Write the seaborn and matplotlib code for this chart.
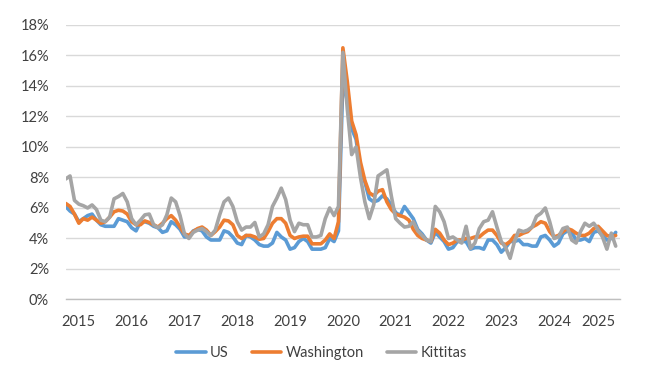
import numpy as np
import pandas as pd
import matplotlib.pyplot as plt
import matplotlib.transforms as mtransforms
from matplotlib.ticker import MultipleLocator, FuncFormatter
import seaborn as sns

# Monthly unemployment rate (%), Jan 2015 - Jun 2025
us = [6.1, 5.8, 5.6, 5.1, 5.3, 5.5, 5.6, 5.2, 4.9, 4.8, 4.8, 4.8,
      5.3, 5.2, 5.1, 4.7, 4.5, 5.1, 5.1, 5.0, 4.8, 4.7, 4.4, 4.5,
      5.1, 4.9, 4.6, 4.1, 4.1, 4.5, 4.6, 4.5, 4.1, 3.9, 3.9, 3.9,
      4.5, 4.4, 4.1, 3.7, 3.6, 4.2, 4.1, 3.9, 3.6, 3.5, 3.5, 3.7,
      4.4, 4.1, 3.9, 3.3, 3.4, 3.8, 4.0, 3.8, 3.3, 3.3, 3.3, 3.4,
      4.0, 3.8, 4.5, 14.4, 13.0, 11.2, 10.5, 8.5, 7.7, 6.6, 6.4, 6.5,
      6.8, 6.6, 6.2, 5.7, 5.5, 6.1, 5.7, 5.3, 4.6, 4.3, 3.9, 3.7,
      4.4, 4.1, 3.8, 3.3, 3.4, 3.8, 3.8, 3.8, 3.3, 3.4, 3.4, 3.3,
      3.9, 3.9, 3.6, 3.1, 3.4, 3.8, 3.8, 3.9, 3.6, 3.6, 3.5, 3.5,
      4.1, 4.2, 3.9, 3.5, 3.7, 4.3, 4.5, 4.4, 3.9, 3.9, 4.0, 3.8,
      4.4, 4.5, 4.2, 3.9, 4.0, 4.4]

washington = [6.3, 6.1, 5.6, 5.0, 5.3, 5.2, 5.4, 5.2, 5.0, 5.1, 5.4, 5.75,
              5.85, 5.8, 5.6, 5.1, 4.9, 4.9, 5.15, 5.05, 4.9, 4.75, 5.0, 5.3,
              5.5, 5.2, 4.75, 4.3, 4.2, 4.45, 4.65, 4.75, 4.55, 4.2, 4.45, 4.75,
              5.2, 5.15, 4.9, 4.2, 4.0, 4.2, 4.2, 4.1, 3.95, 4.0, 4.45, 5.0,
              5.3, 5.3, 5.0, 4.2, 4.0, 4.1, 4.15, 4.15, 3.65, 3.65, 3.65, 3.9,
              4.3, 4.0, 5.1, 16.5, 14.3, 11.7, 10.8, 9.0, 7.8, 7.0, 6.8, 7.1,
              7.2, 6.4, 5.9, 5.6, 5.5, 5.4, 5.2, 4.6, 4.2, 4.0, 3.9, 3.8,
              4.6, 4.35, 3.9, 3.6, 3.7, 3.9, 3.9, 4.0, 4.0, 4.1, 4.1, 4.35,
              4.55, 4.55, 4.2, 3.7, 3.6, 3.8, 4.2, 4.2, 4.35, 4.45, 4.75, 4.9,
              5.1, 5.0, 4.45, 4.1, 4.2, 4.45, 4.65, 4.55, 4.35, 4.2, 4.2, 4.35,
              4.65, 4.8, 4.5, 4.2, 4.1, 4.2]

kittitas = [7.9, 8.1, 6.5, 6.25, 6.15, 6.0, 6.2, 5.9, 5.2, 5.1, 5.4, 6.6,
            6.75, 6.95, 6.4, 5.3, 4.9, 5.2, 5.55, 5.6, 4.9, 4.7, 4.9, 5.55,
            6.65, 6.4, 5.5, 4.3, 4.0, 4.4, 4.55, 4.65, 4.45, 4.2, 4.55, 5.55,
            6.4, 6.65, 6.1, 5.1, 4.55, 4.75, 4.75, 5.05, 4.1, 4.3, 4.9, 6.1,
            6.65, 7.3, 6.55, 5.2, 4.45, 5.0, 4.9, 4.9, 4.1, 4.1, 4.2, 5.3,
            6.0, 5.5, 6.1, 16.2, 12.5, 9.5, 10.0, 8.0, 6.4, 5.3, 6.2, 8.1,
            8.3, 8.5, 6.8, 5.3, 5.0, 4.75, 4.8, 5.1, 4.5, 4.2, 3.9, 3.8,
            6.1, 5.75, 5.1, 4.0, 4.1, 3.9, 3.7, 4.8, 3.35, 3.7, 4.65, 5.1,
            5.2, 5.75, 4.75, 3.8, 3.4, 2.7, 3.8, 4.55, 4.45, 4.55, 4.75, 5.45,
            5.65, 6.0, 5.1, 4.0, 4.1, 4.65, 4.75, 3.9, 3.7, 4.45, 5.0, 4.8,
            5.0, 4.6, 4.1, 3.3, 4.35, 3.5]

years = [str(y) for y in range(2015, 2026)]
series_names = ["US", "Washington", "Kittitas"]
colors = ["#5B9BD5", "#ED7D31", "#A5A5A5"]

df = pd.DataFrame({"month": np.arange(len(us)), "US": us,
                   "Washington": washington, "Kittitas": kittitas})
df_long = df.melt(id_vars="month", var_name="Area", value_name="rate")

sns.set_style("white")
plt.rcParams["font.family"] = ["Lato", "DejaVu Sans"]

fig = plt.figure(figsize=(6.5, 3.78), dpi=100)
ax = fig.add_axes([0.101, 0.2077, 0.853, 0.7263])

sns.lineplot(data=df_long, x="month", y="rate", hue="Area",
             hue_order=series_names, palette=colors, linewidth=2.6,
             ax=ax, legend=True)

ax.set_ylim(0, 18)
ax.set_xlim(0, 126)
ax.yaxis.set_major_locator(MultipleLocator(2))
ax.yaxis.set_major_formatter(FuncFormatter(lambda v, p: f"{v:.0f}%"))
ax.grid(axis="y", color="#d9d9d9", linewidth=1)
ax.set_axisbelow(True)
for s in ["left", "right", "top"]:
    ax.spines[s].set_visible(False)
ax.spines["bottom"].set_color("#bfbfbf")
ax.spines["bottom"].set_linewidth(1)
ax.tick_params(axis="y", length=0, pad=12, labelsize=10.5, labelcolor="#404040")

# year boundaries as major ticks, months as minor ticks
ax.set_xticks(np.arange(0, 127, 12))
ax.set_xticks(np.arange(0, 127, 1), minor=True)
ax.set_xticklabels([])
ax.tick_params(axis="x", which="major", length=5, width=1, color="#bfbfbf")
ax.tick_params(axis="x", which="minor", length=3, width=0.8, color="#bfbfbf")
ax.set_xlabel("")
ax.set_ylabel("")

trans = mtransforms.blended_transform_factory(ax.transData, ax.transAxes)
label_pos = [3 + 12 * i for i in range(len(years) - 1)] + [121]
for x, yr in zip(label_pos, years):
    ax.text(x, -0.082, yr, transform=trans, ha="center", va="center",
            fontsize=10.5, color="#404040")

handles, labels = ax.get_legend_handles_labels()
ax.get_legend().remove()
fig.legend(handles, labels, loc="center", bbox_to_anchor=(0.495, 0.066),
           ncol=3, frameon=False, fontsize=10.5, handlelength=2.0,
           handletextpad=0.3, columnspacing=1.6, labelcolor="#404040")

fig.savefig("out.png", dpi=100)
